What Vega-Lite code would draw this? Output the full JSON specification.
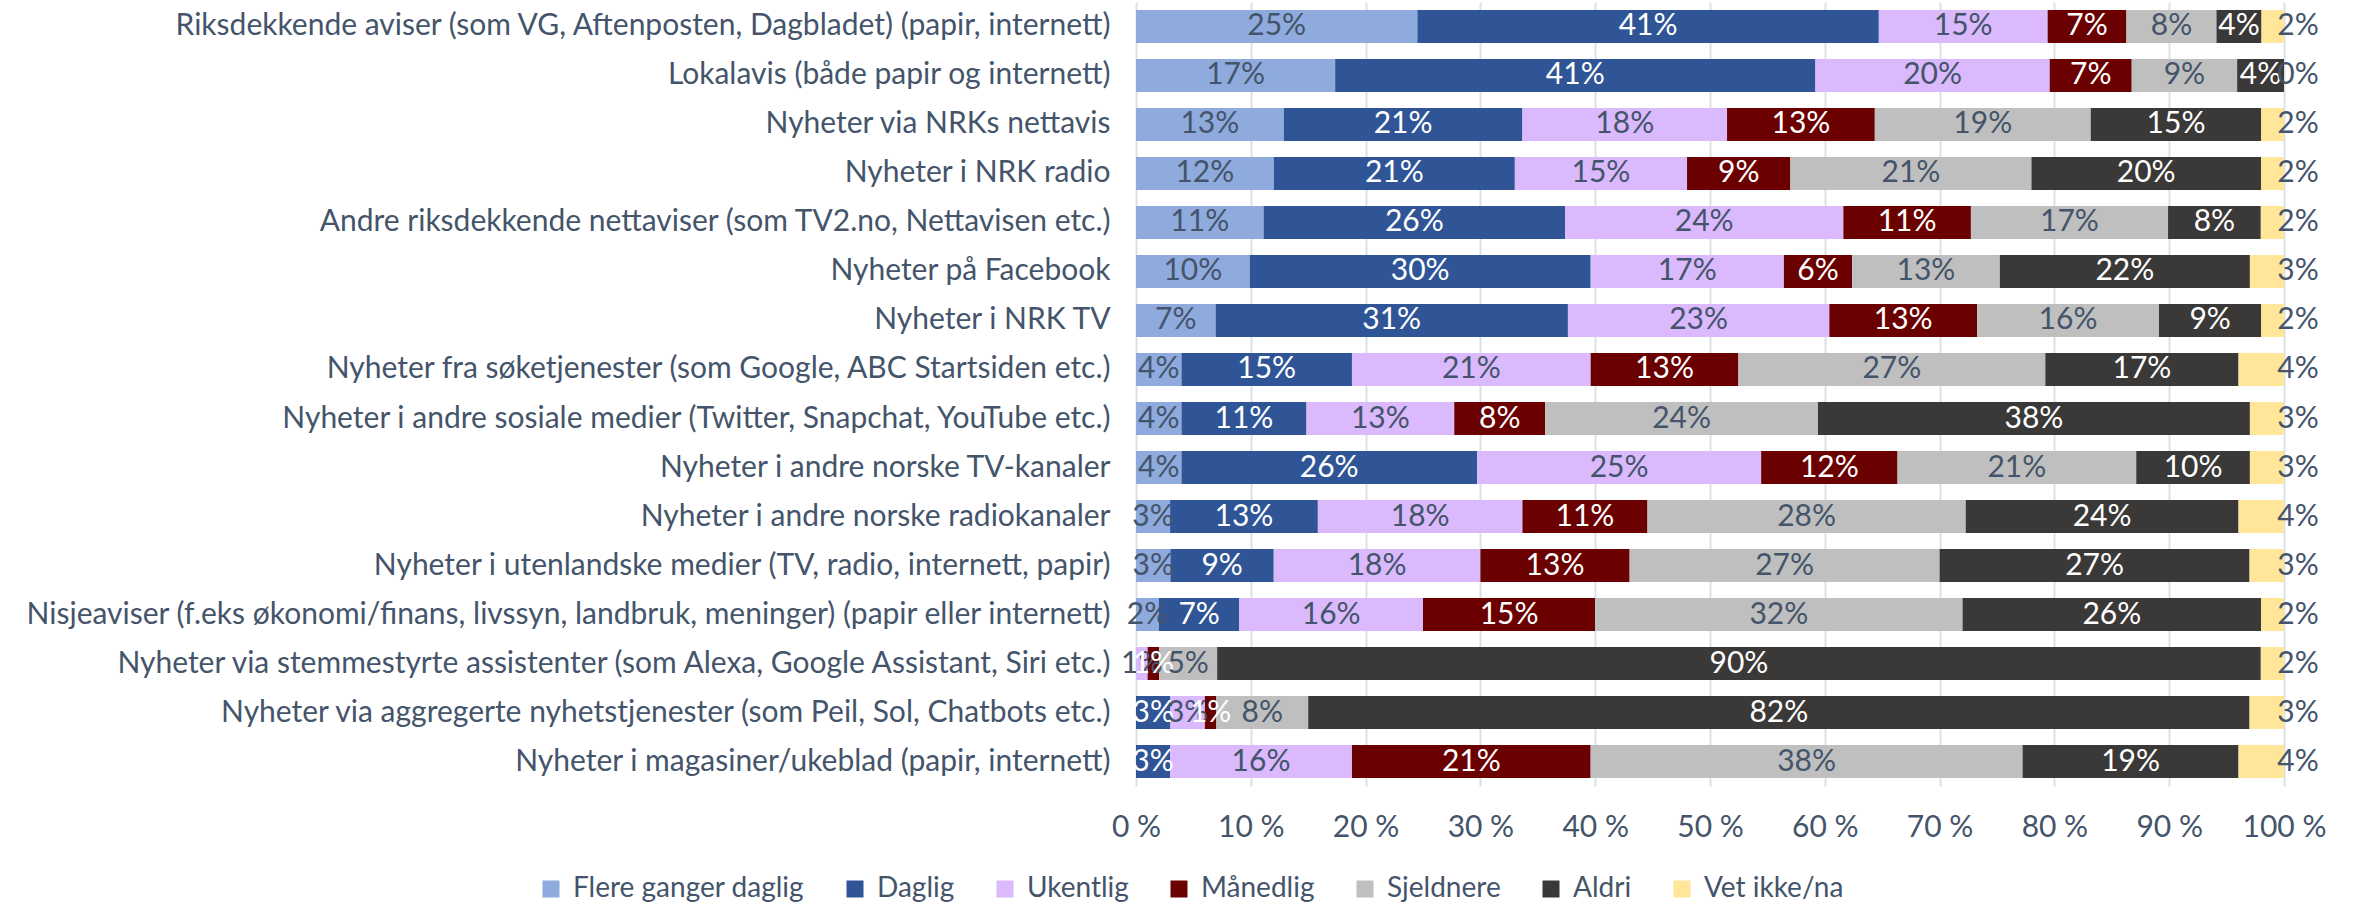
{
  "$schema": "https://vega.github.io/schema/vega-lite/v6.json",
  "autosize": "none",
  "padding": {"left": 1136, "top": 2, "right": 74, "bottom": 119},
  "width": 1148,
  "height": 784,
  "background": "white",
  "config": {
    "view": {"stroke": null},
    "font": "Lato",
    "text": {"font": "Lato"}
  },
  "datasets": {
    "survey": [
      {"kategori": "Riksdekkende aviser (som VG, Aftenposten, Dagbladet) (papir, internett)", "svar": "Flere ganger daglig", "andel": 25},
      {"kategori": "Riksdekkende aviser (som VG, Aftenposten, Dagbladet) (papir, internett)", "svar": "Daglig", "andel": 41},
      {"kategori": "Riksdekkende aviser (som VG, Aftenposten, Dagbladet) (papir, internett)", "svar": "Ukentlig", "andel": 15},
      {"kategori": "Riksdekkende aviser (som VG, Aftenposten, Dagbladet) (papir, internett)", "svar": "Månedlig", "andel": 7},
      {"kategori": "Riksdekkende aviser (som VG, Aftenposten, Dagbladet) (papir, internett)", "svar": "Sjeldnere", "andel": 8},
      {"kategori": "Riksdekkende aviser (som VG, Aftenposten, Dagbladet) (papir, internett)", "svar": "Aldri", "andel": 4},
      {"kategori": "Riksdekkende aviser (som VG, Aftenposten, Dagbladet) (papir, internett)", "svar": "Vet ikke/na", "andel": 2},

      {"kategori": "Lokalavis (både papir og internett)", "svar": "Flere ganger daglig", "andel": 17},
      {"kategori": "Lokalavis (både papir og internett)", "svar": "Daglig", "andel": 41},
      {"kategori": "Lokalavis (både papir og internett)", "svar": "Ukentlig", "andel": 20},
      {"kategori": "Lokalavis (både papir og internett)", "svar": "Månedlig", "andel": 7},
      {"kategori": "Lokalavis (både papir og internett)", "svar": "Sjeldnere", "andel": 9},
      {"kategori": "Lokalavis (både papir og internett)", "svar": "Aldri", "andel": 4},
      {"kategori": "Lokalavis (både papir og internett)", "svar": "Vet ikke/na", "andel": 0},

      {"kategori": "Nyheter via NRKs nettavis", "svar": "Flere ganger daglig", "andel": 13},
      {"kategori": "Nyheter via NRKs nettavis", "svar": "Daglig", "andel": 21},
      {"kategori": "Nyheter via NRKs nettavis", "svar": "Ukentlig", "andel": 18},
      {"kategori": "Nyheter via NRKs nettavis", "svar": "Månedlig", "andel": 13},
      {"kategori": "Nyheter via NRKs nettavis", "svar": "Sjeldnere", "andel": 19},
      {"kategori": "Nyheter via NRKs nettavis", "svar": "Aldri", "andel": 15},
      {"kategori": "Nyheter via NRKs nettavis", "svar": "Vet ikke/na", "andel": 2},

      {"kategori": "Nyheter i NRK radio", "svar": "Flere ganger daglig", "andel": 12},
      {"kategori": "Nyheter i NRK radio", "svar": "Daglig", "andel": 21},
      {"kategori": "Nyheter i NRK radio", "svar": "Ukentlig", "andel": 15},
      {"kategori": "Nyheter i NRK radio", "svar": "Månedlig", "andel": 9},
      {"kategori": "Nyheter i NRK radio", "svar": "Sjeldnere", "andel": 21},
      {"kategori": "Nyheter i NRK radio", "svar": "Aldri", "andel": 20},
      {"kategori": "Nyheter i NRK radio", "svar": "Vet ikke/na", "andel": 2},

      {"kategori": "Andre riksdekkende nettaviser (som TV2.no, Nettavisen etc.)", "svar": "Flere ganger daglig", "andel": 11},
      {"kategori": "Andre riksdekkende nettaviser (som TV2.no, Nettavisen etc.)", "svar": "Daglig", "andel": 26},
      {"kategori": "Andre riksdekkende nettaviser (som TV2.no, Nettavisen etc.)", "svar": "Ukentlig", "andel": 24},
      {"kategori": "Andre riksdekkende nettaviser (som TV2.no, Nettavisen etc.)", "svar": "Månedlig", "andel": 11},
      {"kategori": "Andre riksdekkende nettaviser (som TV2.no, Nettavisen etc.)", "svar": "Sjeldnere", "andel": 17},
      {"kategori": "Andre riksdekkende nettaviser (som TV2.no, Nettavisen etc.)", "svar": "Aldri", "andel": 8},
      {"kategori": "Andre riksdekkende nettaviser (som TV2.no, Nettavisen etc.)", "svar": "Vet ikke/na", "andel": 2},

      {"kategori": "Nyheter på Facebook", "svar": "Flere ganger daglig", "andel": 10},
      {"kategori": "Nyheter på Facebook", "svar": "Daglig", "andel": 30},
      {"kategori": "Nyheter på Facebook", "svar": "Ukentlig", "andel": 17},
      {"kategori": "Nyheter på Facebook", "svar": "Månedlig", "andel": 6},
      {"kategori": "Nyheter på Facebook", "svar": "Sjeldnere", "andel": 13},
      {"kategori": "Nyheter på Facebook", "svar": "Aldri", "andel": 22},
      {"kategori": "Nyheter på Facebook", "svar": "Vet ikke/na", "andel": 3},

      {"kategori": "Nyheter i NRK TV", "svar": "Flere ganger daglig", "andel": 7},
      {"kategori": "Nyheter i NRK TV", "svar": "Daglig", "andel": 31},
      {"kategori": "Nyheter i NRK TV", "svar": "Ukentlig", "andel": 23},
      {"kategori": "Nyheter i NRK TV", "svar": "Månedlig", "andel": 13},
      {"kategori": "Nyheter i NRK TV", "svar": "Sjeldnere", "andel": 16},
      {"kategori": "Nyheter i NRK TV", "svar": "Aldri", "andel": 9},
      {"kategori": "Nyheter i NRK TV", "svar": "Vet ikke/na", "andel": 2},

      {"kategori": "Nyheter fra søketjenester (som Google, ABC Startsiden etc.)", "svar": "Flere ganger daglig", "andel": 4},
      {"kategori": "Nyheter fra søketjenester (som Google, ABC Startsiden etc.)", "svar": "Daglig", "andel": 15},
      {"kategori": "Nyheter fra søketjenester (som Google, ABC Startsiden etc.)", "svar": "Ukentlig", "andel": 21},
      {"kategori": "Nyheter fra søketjenester (som Google, ABC Startsiden etc.)", "svar": "Månedlig", "andel": 13},
      {"kategori": "Nyheter fra søketjenester (som Google, ABC Startsiden etc.)", "svar": "Sjeldnere", "andel": 27},
      {"kategori": "Nyheter fra søketjenester (som Google, ABC Startsiden etc.)", "svar": "Aldri", "andel": 17},
      {"kategori": "Nyheter fra søketjenester (som Google, ABC Startsiden etc.)", "svar": "Vet ikke/na", "andel": 4},

      {"kategori": "Nyheter i andre sosiale medier (Twitter, Snapchat, YouTube etc.)", "svar": "Flere ganger daglig", "andel": 4},
      {"kategori": "Nyheter i andre sosiale medier (Twitter, Snapchat, YouTube etc.)", "svar": "Daglig", "andel": 11},
      {"kategori": "Nyheter i andre sosiale medier (Twitter, Snapchat, YouTube etc.)", "svar": "Ukentlig", "andel": 13},
      {"kategori": "Nyheter i andre sosiale medier (Twitter, Snapchat, YouTube etc.)", "svar": "Månedlig", "andel": 8},
      {"kategori": "Nyheter i andre sosiale medier (Twitter, Snapchat, YouTube etc.)", "svar": "Sjeldnere", "andel": 24},
      {"kategori": "Nyheter i andre sosiale medier (Twitter, Snapchat, YouTube etc.)", "svar": "Aldri", "andel": 38},
      {"kategori": "Nyheter i andre sosiale medier (Twitter, Snapchat, YouTube etc.)", "svar": "Vet ikke/na", "andel": 3},

      {"kategori": "Nyheter i andre norske TV-kanaler", "svar": "Flere ganger daglig", "andel": 4},
      {"kategori": "Nyheter i andre norske TV-kanaler", "svar": "Daglig", "andel": 26},
      {"kategori": "Nyheter i andre norske TV-kanaler", "svar": "Ukentlig", "andel": 25},
      {"kategori": "Nyheter i andre norske TV-kanaler", "svar": "Månedlig", "andel": 12},
      {"kategori": "Nyheter i andre norske TV-kanaler", "svar": "Sjeldnere", "andel": 21},
      {"kategori": "Nyheter i andre norske TV-kanaler", "svar": "Aldri", "andel": 10},
      {"kategori": "Nyheter i andre norske TV-kanaler", "svar": "Vet ikke/na", "andel": 3},

      {"kategori": "Nyheter i andre norske radiokanaler", "svar": "Flere ganger daglig", "andel": 3},
      {"kategori": "Nyheter i andre norske radiokanaler", "svar": "Daglig", "andel": 13},
      {"kategori": "Nyheter i andre norske radiokanaler", "svar": "Ukentlig", "andel": 18},
      {"kategori": "Nyheter i andre norske radiokanaler", "svar": "Månedlig", "andel": 11},
      {"kategori": "Nyheter i andre norske radiokanaler", "svar": "Sjeldnere", "andel": 28},
      {"kategori": "Nyheter i andre norske radiokanaler", "svar": "Aldri", "andel": 24},
      {"kategori": "Nyheter i andre norske radiokanaler", "svar": "Vet ikke/na", "andel": 4},

      {"kategori": "Nyheter i utenlandske medier (TV, radio, internett, papir)", "svar": "Flere ganger daglig", "andel": 3},
      {"kategori": "Nyheter i utenlandske medier (TV, radio, internett, papir)", "svar": "Daglig", "andel": 9},
      {"kategori": "Nyheter i utenlandske medier (TV, radio, internett, papir)", "svar": "Ukentlig", "andel": 18},
      {"kategori": "Nyheter i utenlandske medier (TV, radio, internett, papir)", "svar": "Månedlig", "andel": 13},
      {"kategori": "Nyheter i utenlandske medier (TV, radio, internett, papir)", "svar": "Sjeldnere", "andel": 27},
      {"kategori": "Nyheter i utenlandske medier (TV, radio, internett, papir)", "svar": "Aldri", "andel": 27},
      {"kategori": "Nyheter i utenlandske medier (TV, radio, internett, papir)", "svar": "Vet ikke/na", "andel": 3},

      {"kategori": "Nisjeaviser (f.eks økonomi/finans, livssyn, landbruk, meninger) (papir eller internett)", "svar": "Flere ganger daglig", "andel": 2},
      {"kategori": "Nisjeaviser (f.eks økonomi/finans, livssyn, landbruk, meninger) (papir eller internett)", "svar": "Daglig", "andel": 7},
      {"kategori": "Nisjeaviser (f.eks økonomi/finans, livssyn, landbruk, meninger) (papir eller internett)", "svar": "Ukentlig", "andel": 16},
      {"kategori": "Nisjeaviser (f.eks økonomi/finans, livssyn, landbruk, meninger) (papir eller internett)", "svar": "Månedlig", "andel": 15},
      {"kategori": "Nisjeaviser (f.eks økonomi/finans, livssyn, landbruk, meninger) (papir eller internett)", "svar": "Sjeldnere", "andel": 32},
      {"kategori": "Nisjeaviser (f.eks økonomi/finans, livssyn, landbruk, meninger) (papir eller internett)", "svar": "Aldri", "andel": 26},
      {"kategori": "Nisjeaviser (f.eks økonomi/finans, livssyn, landbruk, meninger) (papir eller internett)", "svar": "Vet ikke/na", "andel": 2},

      {"kategori": "Nyheter via stemmestyrte assistenter (som Alexa, Google Assistant, Siri etc.)", "svar": "Flere ganger daglig", "andel": 0},
      {"kategori": "Nyheter via stemmestyrte assistenter (som Alexa, Google Assistant, Siri etc.)", "svar": "Daglig", "andel": 0},
      {"kategori": "Nyheter via stemmestyrte assistenter (som Alexa, Google Assistant, Siri etc.)", "svar": "Ukentlig", "andel": 1},
      {"kategori": "Nyheter via stemmestyrte assistenter (som Alexa, Google Assistant, Siri etc.)", "svar": "Månedlig", "andel": 1},
      {"kategori": "Nyheter via stemmestyrte assistenter (som Alexa, Google Assistant, Siri etc.)", "svar": "Sjeldnere", "andel": 5},
      {"kategori": "Nyheter via stemmestyrte assistenter (som Alexa, Google Assistant, Siri etc.)", "svar": "Aldri", "andel": 90},
      {"kategori": "Nyheter via stemmestyrte assistenter (som Alexa, Google Assistant, Siri etc.)", "svar": "Vet ikke/na", "andel": 2},

      {"kategori": "Nyheter via aggregerte nyhetstjenester (som Peil, Sol, Chatbots etc.)", "svar": "Flere ganger daglig", "andel": 0},
      {"kategori": "Nyheter via aggregerte nyhetstjenester (som Peil, Sol, Chatbots etc.)", "svar": "Daglig", "andel": 3},
      {"kategori": "Nyheter via aggregerte nyhetstjenester (som Peil, Sol, Chatbots etc.)", "svar": "Ukentlig", "andel": 3},
      {"kategori": "Nyheter via aggregerte nyhetstjenester (som Peil, Sol, Chatbots etc.)", "svar": "Månedlig", "andel": 1},
      {"kategori": "Nyheter via aggregerte nyhetstjenester (som Peil, Sol, Chatbots etc.)", "svar": "Sjeldnere", "andel": 8},
      {"kategori": "Nyheter via aggregerte nyhetstjenester (som Peil, Sol, Chatbots etc.)", "svar": "Aldri", "andel": 82},
      {"kategori": "Nyheter via aggregerte nyhetstjenester (som Peil, Sol, Chatbots etc.)", "svar": "Vet ikke/na", "andel": 3},

      {"kategori": "Nyheter i magasiner/ukeblad (papir, internett)", "svar": "Flere ganger daglig", "andel": 0},
      {"kategori": "Nyheter i magasiner/ukeblad (papir, internett)", "svar": "Daglig", "andel": 3},
      {"kategori": "Nyheter i magasiner/ukeblad (papir, internett)", "svar": "Ukentlig", "andel": 16},
      {"kategori": "Nyheter i magasiner/ukeblad (papir, internett)", "svar": "Månedlig", "andel": 21},
      {"kategori": "Nyheter i magasiner/ukeblad (papir, internett)", "svar": "Sjeldnere", "andel": 38},
      {"kategori": "Nyheter i magasiner/ukeblad (papir, internett)", "svar": "Aldri", "andel": 19},
      {"kategori": "Nyheter i magasiner/ukeblad (papir, internett)", "svar": "Vet ikke/na", "andel": 4}
    ]
  },
  "data": {"name": "survey"},
  "transform": [
    {"calculate": "indexof(['Flere ganger daglig','Daglig','Ukentlig','Månedlig','Sjeldnere','Aldri','Vet ikke/na'], datum.svar)", "as": "rekkefolge"},
    {"stack": "andel", "groupby": ["kategori"], "sort": [{"field": "rekkefolge", "order": "ascending"}], "offset": "normalize", "as": ["v0", "v1"]},
    {"calculate": "(datum.v0 + datum.v1) / 2", "as": "midt"},
    {"calculate": "datum.andel + '%'", "as": "etikett"}
  ],
  "encoding": {
    "y": {
      "field": "kategori",
      "type": "nominal",
      "sort": null,
      "title": null,
      "scale": {"paddingInner": 0.327, "paddingOuter": 0.163},
      "axis": {
        "domain": false,
        "ticks": false,
        "labelFont": "Lato",
        "labelFontSize": 30,
        "labelColor": "#44546A",
        "labelPadding": 26,
        "labelLimit": 1200
      }
    }
  },
  "layer": [
    {
      "mark": {"type": "bar"},
      "encoding": {
        "x": {
          "field": "v0",
          "type": "quantitative",
          "scale": {"domain": [0, 1], "nice": false, "zero": true},
          "title": null,
          "axis": {
            "values": [0, 0.1, 0.2, 0.3, 0.4, 0.5, 0.6, 0.7, 0.8, 0.9, 1],
            "labelExpr": "format(datum.value * 100, 'd') + ' %'",
            "grid": true,
            "gridColor": "#DCE1E8",
            "gridWidth": 2,
            "domain": false,
            "ticks": false,
            "labelFont": "Lato",
            "labelFontSize": 30,
            "labelColor": "#44546A",
            "labelPadding": 26,
            "labelFlush": false
          }
        },
        "x2": {"field": "v1"},
        "color": {
          "field": "svar",
          "type": "nominal",
          "sort": null,
          "scale": {
            "domain": ["Flere ganger daglig", "Daglig", "Ukentlig", "Månedlig", "Sjeldnere", "Aldri", "Vet ikke/na"],
            "range": ["#8FAADC", "#2F5597", "#DAB9FD", "#6B0000", "#BFBFBF", "#3B3838", "#FFE699"]
          },
          "legend": {
            "title": null,
            "orient": "none",
            "direction": "horizontal",
            "legendX": -599,
            "legendY": 873,
            "symbolType": "square",
            "symbolSize": 289,
            "symbolStrokeWidth": 0,
            "labelFont": "Lato",
            "labelFontSize": 28,
            "labelColor": "#44546A",
            "labelOffset": 8,
            "columnPadding": 36,
            "labelLimit": 400
          }
        },
        "order": {"field": "rekkefolge"}
      }
    },
    {
      "transform": [{"filter": "datum.andel > 0 && datum.svar != 'Vet ikke/na'"}],
      "mark": {"type": "text", "font": "Lato", "fontSize": 30, "align": "center", "baseline": "middle"},
      "encoding": {
        "x": {"field": "midt", "type": "quantitative"},
        "text": {"field": "etikett"},
        "color": {
          "condition": {"test": "datum.svar == 'Daglig' || datum.svar == 'Månedlig' || datum.svar == 'Aldri'", "value": "#FFFFFF"},
          "value": "#44546A"
        }
      }
    },
    {
      "transform": [{"filter": "datum.svar == 'Vet ikke/na'"}],
      "mark": {"type": "text", "font": "Lato", "fontSize": 30, "align": "center", "baseline": "middle", "dx": 14, "color": "#44546A"},
      "encoding": {
        "x": {"field": "v1", "type": "quantitative"},
        "text": {"field": "etikett"}
      }
    }
  ]
}
